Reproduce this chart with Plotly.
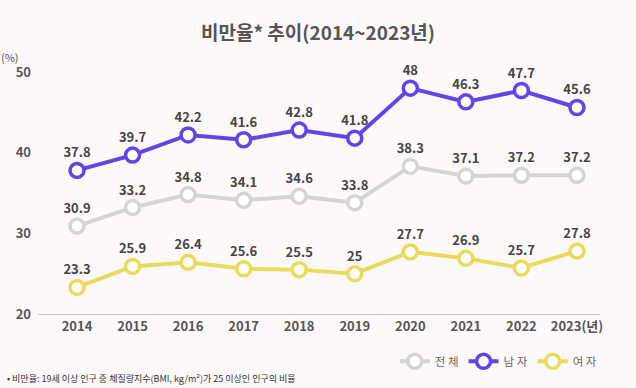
import plotly.graph_objects as go

years = ["2014", "2015", "2016", "2017", "2018", "2019", "2020", "2021", "2022", "2023"]
tick_labels = ["2014", "2015", "2016", "2017", "2018", "2019", "2020", "2021", "2022", "2023(년)"]
total = [30.9, 33.2, 34.8, 34.1, 34.6, 33.8, 38.3, 37.1, 37.2, 37.2]
male = [37.8, 39.7, 42.2, 41.6, 42.8, 41.8, 48, 46.3, 47.7, 45.6]
female = [23.3, 25.9, 26.4, 25.6, 25.5, 25, 27.7, 26.9, 25.7, 27.8]

FONT = "Noto Sans CJK KR"
bg = "#fdf9fa"
xs = list(range(len(years)))

series = [
    ("전 체", total, "#d5d5d5"),
    ("남 자", male, "#6543e4"),
    ("여 자", female, "#ebdb5c"),
]

fig = go.Figure()
for name, vals, col in series:
    fig.add_trace(go.Scatter(
        x=xs, y=vals, name=name, mode="lines+markers+text",
        line=dict(color=col, width=4),
        marker=dict(size=14, color="white", line=dict(color=col, width=3.5)),
        text=["%g" % v for v in vals], textposition="top center",
        textfont=dict(family=FONT, size=13, color="#444444", weight="bold"),
        cliponaxis=False,
    ))

fig.update_layout(
    width=636, height=388,
    margin=dict(l=38, r=36, t=72, b=74),
    paper_bgcolor=bg, plot_bgcolor=bg,
    font=dict(family=FONT, color="#555555"),
    title=dict(text="비만율* 추이(2014~2023년)", x=0.5, xanchor="center", y=0.915, yanchor="middle",
               font=dict(family=FONT, size=19, color="#555555", weight="bold")),
    showlegend=True,
    legend=dict(orientation="h", x=1.005, xanchor="right", y=-0.195, yanchor="middle",
                font=dict(family=FONT, size=11.5, color="#666666"), itemwidth=30,
                bgcolor="rgba(0,0,0,0)"),
    xaxis=dict(range=[-0.702, 9.415], tickvals=xs, ticktext=tick_labels, showgrid=False,
               zeroline=False, showline=True, linecolor="#cccccc", linewidth=1,
               ticks="", tickfont=dict(family=FONT, size=13, color="#555555", weight="bold"),
               fixedrange=True),
    yaxis=dict(range=[20, 50], tickvals=[20, 30, 40, 50], showgrid=False, zeroline=False,
               showline=False, ticks="", ticklabelstandoff=6,
               tickfont=dict(family=FONT, size=13, color="#555555", weight="bold")),
)

fig.add_annotation(text="(%)", xref="paper", yref="paper", x=-0.05, y=1.06,
                   xanchor="center", yanchor="middle", showarrow=False,
                   font=dict(family=FONT, size=11, color="#555555"))
fig.add_annotation(text="• 비만율: 19세 이상 인구 중 체질량지수(BMI, kg/m²)가 25 이상인 인구의 비율",
                   xref="paper", yref="paper", x=-0.058, y=-0.265, xanchor="left", yanchor="middle",
                   showarrow=False, font=dict(family=FONT, size=9, color="#333333"))

fig.write_html("out.html", config={"displayModeBar": False},
               post_script="document.body.style.margin='0';document.body.style.background='%s';" % bg)
